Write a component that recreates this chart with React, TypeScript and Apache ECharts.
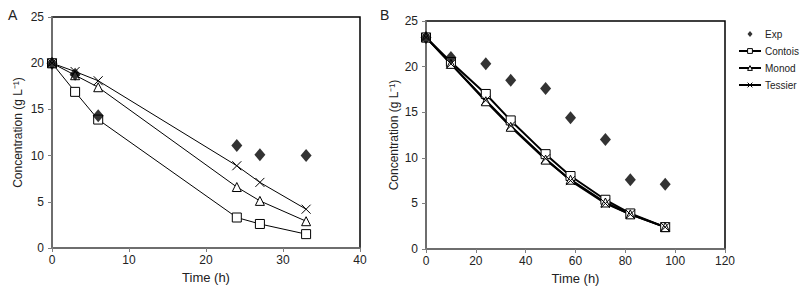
import React, { useEffect, useRef } from "react";
import * as echarts from "echarts";

const timeA = [0, 3, 6, 24, 27, 33];
const expA = [20, 18.8, 14.3, 11.1, 10.1, 10.0];
const contoisA = [20, 16.9, 13.9, 3.3, 2.6, 1.5];
const monodA = [20, 18.7, 17.4, 6.6, 5.1, 2.9];
const tessierA = [20, 19.1, 18.1, 8.9, 7.1, 4.2];

const timeB = [0, 10, 24, 34, 48, 58, 72, 82, 96];
const expB = [23.2, 21.0, 20.3, 18.5, 17.6, 14.4, 12.0, 7.6, 7.1];
const contoisB = [23.2, 20.5, 17.0, 14.1, 10.4, 8.0, 5.4, 3.9, 2.4];
const monodB = [23.2, 20.3, 16.2, 13.4, 9.8, 7.6, 5.1, 3.8, 2.4];
const tessierB = [23.2, 20.3, 16.3, 13.5, 9.9, 7.5, 5.0, 3.8, 2.4];

const seriesNames = ["Exp", "Contois", "Monod", "Tessier"];

const FONT = "'Liberation Sans Narrow', 'Liberation Sans', Arial, sans-serif";
const xMark = "path://M0,0L10,10M10,0L0,10";
const smallDiamond = "path://M0,3L0,3M22,3L22,3M11,0L13.5,3L11,6L8.5,3Z";

const zip = (xs: number[], ys: number[]) => xs.map((x, i) => [x, ys[i]]);

export default function App() {
  const ref = useRef<HTMLDivElement>(null);
  useEffect(() => {
    if (!ref.current) return;
    const chart = echarts.init(ref.current, null, { renderer: "svg" });
    const axisLine = { show: true, lineStyle: { color: "#7f7f7f", width: 1.5 } };
    const axisTick = { show: true, length: 4, lineStyle: { color: "#7f7f7f" } };
    const axisLabel = { color: "#222", fontSize: 12, fontFamily: FONT };
    const nameStyle = { color: "#222", fontSize: 13, fontFamily: FONT };
    const mkX = (idx: number, max: number, interval: number, gap: number) => ({
      type: "value", gridIndex: idx, min: 0, max, interval,
      axisLine, axisTick, axisLabel: { ...axisLabel, margin: 6 }, splitLine: { show: false },
      name: "Time (h)", nameLocation: "middle", nameGap: gap, nameTextStyle: nameStyle,
    });
    const mkY = (idx: number, gap: number) => ({
      type: "value", gridIndex: idx, min: 0, max: 25, interval: 5,
      axisLine, axisTick, axisLabel: { ...axisLabel, margin: 8 }, splitLine: { show: false },
      name: "Concentration (g L\u207B\u00B9)", nameLocation: "middle", nameGap: gap,
      nameTextStyle: { ...nameStyle, fontSize: 12 },
    });
    const lineS = (name: string, xi: number, data: number[][], symbol: string, size: number, width: number) => ({
      type: "line", name, xAxisIndex: xi, yAxisIndex: xi, data,
      symbol, symbolSize: size, showSymbol: true,
      lineStyle: { color: "#000", width },
      itemStyle: { color: symbol === xMark ? "none" : "#fff", borderColor: "#000", borderWidth: 1 },
      z: 3,
    });
    const expS = (xi: number, data: number[][]) => ({
      type: "scatter", name: "Exp", xAxisIndex: xi, yAxisIndex: xi, data,
      symbol: "diamond", symbolSize: [11, 13], itemStyle: { color: "#000" }, z: 5,
    });
    chart.setOption({
      animation: false,
      backgroundColor: "#fff",
      textStyle: { fontFamily: FONT },
      grid: [
        { left: 52, top: 17, width: 308, height: 231, show: true, borderColor: "#000", borderWidth: 1.5, backgroundColor: "transparent" },
        { left: 426, top: 21, width: 299, height: 228, show: true, borderColor: "#000", borderWidth: 1.5, backgroundColor: "transparent" },
      ],
      xAxis: [mkX(0, 40, 10, 22), mkX(1, 120, 20, 22)],
      yAxis: [mkY(0, 28), mkY(1, 26)],
      legend: {
        orient: "vertical", left: 733, top: 24, itemGap: 7, itemWidth: 22, itemHeight: 6,
        data: seriesNames.map((n) => n === "Exp"
          ? { name: n, icon: smallDiamond, itemStyle: { color: "#000" } }
          : { name: n, itemStyle: { borderWidth: 1 }, lineStyle: { width: 2 } }),
        textStyle: { color: "#222", fontSize: 10, fontFamily: FONT, padding: [0, 0, 0, -1] },
        selectedMode: false,
      },
      series: [
        expS(0, zip(timeA, expA)),
        lineS("Contois", 0, zip(timeA, contoisA), "rect", 9, 1),
        lineS("Monod", 0, zip(timeA, monodA), "triangle", 9, 1),
        lineS("Tessier", 0, zip(timeA, tessierA), xMark, 9, 1),
        expS(1, zip(timeB, expB)),
        lineS("Contois", 1, zip(timeB, contoisB), "rect", 9, 2),
        lineS("Monod", 1, zip(timeB, monodB), "triangle", 9, 2),
        lineS("Tessier", 1, zip(timeB, tessierB), xMark, 9, 2),
      ],
      graphic: [
        { type: "text", left: 8, top: 8, style: { text: "A", fontSize: 14, fontFamily: FONT, fill: "#222" } },
        { type: "text", left: 380, top: 8, style: { text: "B", fontSize: 14, fontFamily: FONT, fill: "#222" } },
      ],
    });
    return () => chart.dispose();
  }, []);
  return <div ref={ref} style={{ width: 800, height: 295, position: "absolute", left: 0, top: 0 }} />;
}
